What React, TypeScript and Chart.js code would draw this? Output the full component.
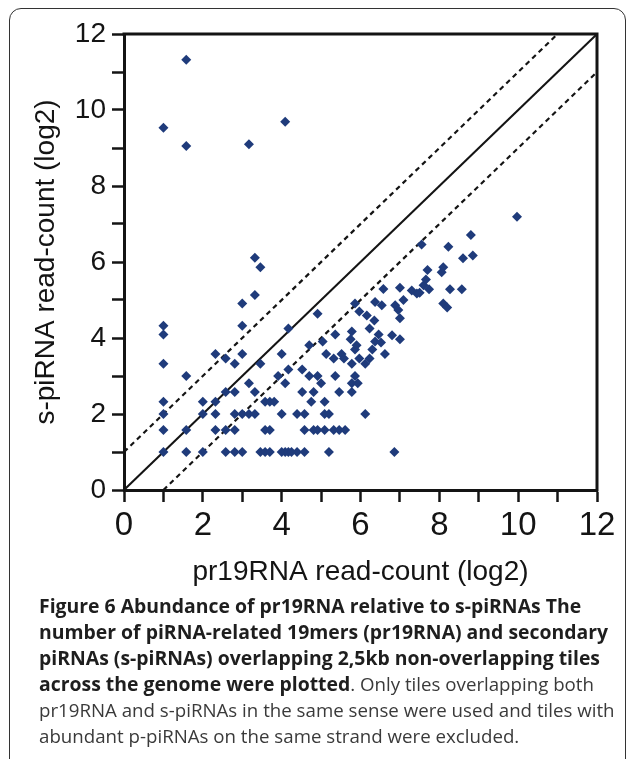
import React, { useEffect, useRef } from 'react';
import { Chart, registerables } from 'chart.js';

Chart.register(...registerables);

// s-piRNA vs pr19RNA read counts (log2)
const xValues = [
  1.58, 1.0, 1.58, 3.17, 4.09,
  1, 1, 1, 1, 1, 1, 1,
  1.58, 1.58, 1.58,
  2, 2, 2,
  2.32, 2.32, 2.32, 2.32,
  2.58, 2.58, 2.58, 2.58,
  2.81, 2.81, 2.81, 2.81, 2.81,
  3, 3, 3, 3, 3,
  3.17, 3.17,
  3.32, 3.32, 3.32, 3.32,
  3.46, 3.46, 3.46,
  3.58, 3.58, 3.58,
  3.7, 3.7, 3.7,
  3.81, 3.91,
  4.0, 4.0, 4.0,
  4.09, 4.09,
  4.17, 4.17, 4.17,
  4.25,
  4.39, 4.39,
  4.52, 4.52,
  4.58, 4.58, 4.58,
  4.7, 4.7,
  4.75,
  4.81, 4.81,
  4.91, 4.91, 4.91,
  5.0, 5.04,
  5.09, 5.09, 5.09,
  5.13,
  5.2, 5.2,
  5.32, 5.32,
  5.36, 5.36,
  5.46, 5.46,
  5.52, 5.58, 5.61, 5.75,
  5.78, 5.78, 5.78, 5.78,
  5.86, 5.86, 5.86,
  5.9, 5.93,
  5.97, 5.97,
  6.12, 6.12,
  6.16,
  6.23, 6.23,
  6.3, 6.35,
  6.37, 6.37,
  6.46, 6.52, 6.54, 6.58, 6.62, 6.8, 6.86, 6.88, 6.96,
  7.0, 7.0, 7.0,
  7.09, 7.3, 7.43, 7.5, 7.55, 7.6, 7.66, 7.7, 7.74,
  8.06, 8.1, 8.1, 8.2, 8.23, 8.27, 8.57, 8.6, 8.85, 8.8, 9.97,
];

const yValues = [
  11.32, 9.53, 9.05, 9.1, 9.69,
  4.32, 4.09, 3.32, 2.32, 2.0, 1.58, 1.0,
  3.0, 1.58, 1.0,
  2.32, 2.0, 1.0,
  3.58, 2.32, 2.0, 1.58,
  3.46, 2.58, 1.58, 1.0,
  3.32, 2.58, 2.0, 1.58, 1.0,
  4.91, 4.32, 3.58, 2.0, 1.0,
  2.81, 2.0,
  6.11, 5.13, 2.58, 2.0,
  5.86, 3.32, 1.0,
  2.32, 1.58, 1.0,
  2.32, 1.58, 1.0,
  2.32, 3.0,
  3.58, 2.0, 1.0,
  2.81, 1.0,
  4.25, 3.17, 1.0,
  1.0,
  2.0, 1.0,
  3.17, 2.58,
  2.0, 1.58, 1.0,
  3.81, 3.0,
  2.32,
  2.58, 1.58,
  4.64, 3.0, 1.58,
  2.81, 3.91,
  2.32, 2.0, 1.58,
  3.58,
  2.0, 1.0,
  3.46, 1.58,
  4.09, 3.0,
  2.58, 1.58,
  3.58, 3.46, 1.58, 3.97,
  4.17, 3.32, 2.81, 2.58,
  4.91, 3.7, 3.0,
  3.81, 2.81,
  4.7, 3.46,
  3.32, 2.0,
  4.59,
  4.25, 3.46,
  3.7, 4.46,
  4.95, 3.91,
  4.09, 3.88, 4.86, 5.29, 3.58, 4.07, 1.0, 4.86, 4.74,
  5.32, 4.52, 3.97,
  5.0, 5.25, 5.17, 5.19, 6.46, 5.39, 5.54, 5.79, 5.28,
  5.73, 5.86, 4.91, 4.8, 6.4, 5.28, 5.28, 6.1, 6.17, 6.71, 7.19,
];

// reference lines y = x, y = x + 1, y = x - 1
const solidLineX = [0, 12];
const solidLineY = [0, 12];
const upperLineX = [0, 11];
const upperLineY = [1, 12];
const lowerLineX = [1, 12];
const lowerLineY = [0, 11];

const axisMin = 0;
const axisMax = 12;
const labeledTicks = [0, 2, 4, 6, 8, 10, 12];

const xTitle = 'pr19RNA read-count (log2)';
const yTitle = 's-piRNA read-count (log2)';

const pts = (xs: number[], ys: number[]) => xs.map((x, i) => ({ x, y: ys[i] }));

const FONT = "'Liberation Sans', Arial, Helvetica, sans-serif";
const INK = '#141414';

const framePlugin = {
  id: 'frameTopRight',
  afterDatasetsDraw(chart: any) {
    const { ctx, chartArea } = chart;
    const { left, right, top, bottom } = chartArea;
    ctx.save();
    ctx.strokeStyle = INK;
    ctx.lineWidth = 3;
    ctx.beginPath();
    ctx.moveTo(left - 1.5, top);
    ctx.lineTo(right, top);
    ctx.lineTo(right, bottom + 1.5);
    ctx.stroke();
    ctx.restore();
  },
};

function ScatterChart() {
  const ref = useRef<HTMLCanvasElement | null>(null);
  useEffect(() => {
    if (!ref.current) return;
    const tickCb = (v: any) => (labeledTicks.includes(Number(v)) ? String(v) : '');
    const chart = new Chart(ref.current, {
      type: 'scatter',
      data: {
        datasets: [
          {
            label: 'tiles',
            data: pts(xValues, yValues),
            pointStyle: 'rectRot',
            pointRadius: 5,
            pointBorderWidth: 0,
            backgroundColor: '#1f3b7b',
            borderColor: '#1f3b7b',
            order: 0,
          },
          {
            label: 'y=x',
            data: pts(solidLineX, solidLineY),
            showLine: true,
            pointRadius: 0,
            borderColor: INK,
            borderWidth: 2,
            order: 1,
          },
          {
            label: 'y=x+1',
            data: pts(upperLineX, upperLineY),
            showLine: true,
            pointRadius: 0,
            borderColor: INK,
            borderWidth: 2.2,
            borderDash: [5, 4],
            order: 2,
          },
          {
            label: 'y=x-1',
            data: pts(lowerLineX, lowerLineY),
            showLine: true,
            pointRadius: 0,
            borderColor: INK,
            borderWidth: 2.2,
            borderDash: [5, 4],
            order: 3,
          },
        ],
      },
      options: {
        animation: false,
        responsive: false,
        maintainAspectRatio: false,
        layout: { padding: { left: 0, top: 34, right: 30, bottom: 0 } },
        plugins: { legend: { display: false }, tooltip: { enabled: false } },
        scales: {
          x: {
            type: 'linear',
            min: axisMin,
            max: axisMax,
            afterFit: (s: any) => {
              s.height = 110;
            },
            ticks: {
              stepSize: 1,
              autoSkip: false,
              maxRotation: 0,
              minRotation: 0,
              padding: 4,
              color: INK,
              font: { family: FONT, size: 33 },
              callback: tickCb,
            },
            grid: { drawOnChartArea: false, drawTicks: true, tickLength: 12, tickWidth: 2.5, tickColor: INK },
            border: { display: true, color: INK, width: 3 },
            title: {
              display: true,
              text: xTitle,
              color: INK,
              font: { family: FONT, size: 28 },
              padding: { top: 0, bottom: 11 },
            },
          },
          y: {
            type: 'linear',
            min: axisMin,
            max: axisMax,
            afterFit: (s: any) => {
              s.width = 124;
            },
            ticks: {
              stepSize: 1,
              autoSkip: false,
              padding: 6,
              color: INK,
              font: { family: FONT, size: 28 },
              callback: tickCb,
            },
            grid: { drawOnChartArea: false, drawTicks: true, tickLength: 12, tickWidth: 2.5, tickColor: INK },
            border: { display: true, color: INK, width: 3 },
            title: {
              display: true,
              text: yTitle,
              color: INK,
              font: { family: FONT, size: 28 },
              padding: { top: 29, bottom: 0 },
            },
          },
        },
      },
      plugins: [framePlugin],
    } as any);
    return () => chart.destroy();
  }, []);
  return <canvas ref={ref} width={627} height={600} style={{ position: 'absolute', left: 0, top: 0, width: 627, height: 600 }} />;
}

const captionBold1 = 'Figure 6 Abundance of pr19RNA relative to s-piRNAs The';
const captionBold2 = 'number of piRNA-related 19mers (pr19RNA) and secondary';
const captionBold3 = 'piRNAs (s-piRNAs) overlapping 2,5kb non-overlapping tiles';
const captionBold4 = 'across the genome were plotted';
const captionReg4 = '. Only tiles overlapping both';
const captionReg5 = 'pr19RNA and s-piRNAs in the same sense were used and tiles with';
const captionReg6 = 'abundant p-piRNAs on the same strand were excluded.';

export default function App() {
  const bold: React.CSSProperties = { fontWeight: 700, color: '#1e1e1e', fontSize: 19.4 };
  const reg: React.CSSProperties = { fontWeight: 400, color: '#3a3a3a', fontSize: 18.7 };
  return (
    <div style={{ position: 'absolute', left: 0, top: 0, width: 627, height: 759, overflow: 'hidden', background: '#fff' }}>
      <div
        style={{
          position: 'absolute',
          left: 9,
          top: 8,
          width: 617,
          height: 820,
          boxSizing: 'border-box',
          border: '1.5px solid #333',
          borderRadius: 12,
        }}
      />
      <ScatterChart />
      <div
        style={{
          position: 'absolute',
          left: 39,
          top: 593,
          fontFamily: "'Open Sans', 'Noto Sans', sans-serif",
          fontSize: 19,
          lineHeight: '26px',
          whiteSpace: 'nowrap',
        }}
      >
        <div style={bold}>{captionBold1}</div>
        <div style={bold}>{captionBold2}</div>
        <div style={bold}>{captionBold3}</div>
        <div>
          <span style={bold}>{captionBold4}</span>
          <span style={reg}>{captionReg4}</span>
        </div>
        <div style={reg}>{captionReg5}</div>
        <div style={reg}>{captionReg6}</div>
      </div>
    </div>
  );
}
